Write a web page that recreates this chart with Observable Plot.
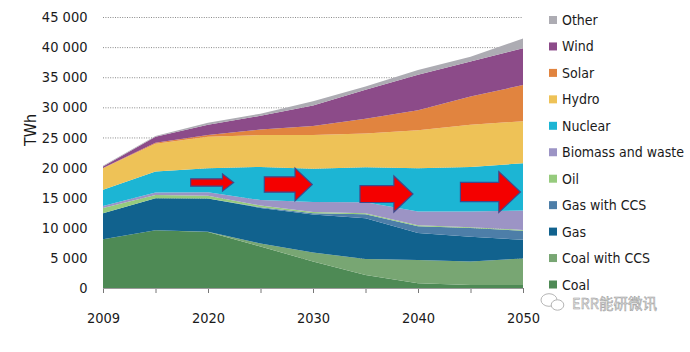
<!DOCTYPE html>
<html><head><meta charset="utf-8">
<script src="https://cdn.jsdelivr.net/npm/d3@7"></script>
<script src="https://cdn.jsdelivr.net/npm/@observablehq/plot@0.6"></script>
<style>
html,body{margin:0;padding:0;background:#fff;}
#chart svg{display:block;}
</style>
</head><body><div id="chart"></div>
<script>
// ---------- DATA ----------
const years = [2009, 2015, 2020, 2025, 2030, 2035, 2040, 2045, 2050];
const xTickLabels = ["2009", "", "2020", "", "2030", "", "2040", "", "2050"];
const seriesNames = ["Coal", "Coal with CCS", "Gas", "Gas with CCS", "Oil", "Biomass and waste", "Nuclear", "Hydro", "Solar", "Wind", "Other"];
const coal    = [8100, 9600, 9300, 6900, 4400, 2150,  800,  500,  500];
const coalCCS = [   0,    0,   50,  500, 1500, 2650, 3850, 3900, 4400];
const gas     = [4300, 5300, 5500, 5900, 6300, 6800, 4500, 4100, 3100];
const gasCCS  = [   0,    0,    0,  100,  200,  650, 1100, 1450, 1500];
const oil     = [ 900,  550,  450,  300,  200,  150,  150,  150,  150];
const biomass = [ 300,  400,  600,  900, 1700, 1850, 2300, 2600, 3200];
const nuclear = [2700, 3500, 4000, 5500, 5500, 5800, 7200, 7400, 7850];
const hydro   = [3600, 4600, 5200, 5300, 5600, 5600, 6300, 7000, 7000];
const solar   = [  20,  150,  300,  900, 1500, 2450, 3300, 4700, 6000];
const wind    = [ 270, 1000, 1700, 2300, 3400, 4800, 5900, 5800, 6100];
const other   = [ 100,  150,  350,  350,  700,  550,  800,  800, 1650];
const yTicks  = [0, 5000, 10000, 15000, 20000, 25000, 30000, 35000, 40000, 45000];
const yLabel  = "TWh";
// arrow annotations (position in data space: year index, TWh)
const arrowX = [2.07, 3.52, 5.39, 7.37];
const arrowY = [17600, 17270, 15690, 16020];
const watermark = "ERR能研微讯";

// ---------- BUILD ----------
const seriesValues = [coal, coalCCS, gas, gasCCS, oil, biomass, nuclear, hydro, solar, wind, other];
const long = [];
seriesNames.forEach((name, s) => {
  years.forEach((yr, i) => long.push({series: name, i, year: yr, value: seriesValues[s][i]}));
});
const arrows = arrowX.map((x, k) => ({x, y: arrowY[k]}));

// ---------- STYLE ----------
const FONT = '"DejaVu Sans Condensed", "Liberation Sans Narrow", "Open Sans", sans-serif';
const palette = ["#4e8a55", "#78a673", "#11628e", "#4d7ea8", "#96cb7d", "#9c94c5", "#1cb5d4", "#eec257", "#e1843f", "#8c4b89", "#adacb3"];
const arrowR = [21.5, 24, 26.5, 30];

function arrowSymbol(headHalf, shaftHalf, headLen) {
  return {
    draw(ctx, size) {
      const L = 2 * Math.sqrt(size / Math.PI);
      const h = L / 2, hx = h - headLen * L;
      ctx.moveTo(-h, -shaftHalf * L);
      ctx.lineTo(hx, -shaftHalf * L);
      ctx.lineTo(hx, -headHalf * L);
      ctx.lineTo(h, 0);
      ctx.lineTo(hx, headHalf * L);
      ctx.lineTo(hx, shaftHalf * L);
      ctx.lineTo(-h, shaftHalf * L);
      ctx.closePath();
    }
  };
}
const thinArrow = arrowSymbol(0.2, 0.085, 0.26);
const fatArrow = arrowSymbol(0.34, 0.16, 0.36);

const fmt = v => d3.format(",")(v).replace(/,/g, " ");

const chart = Plot.plot({
  width: 690,
  height: 352,
  marginLeft: 103,
  marginRight: 167,
  marginTop: 17,
  marginBottom: 64,
  style: {fontFamily: FONT, fontSize: "14.5px", color: "#1a1a1a", background: "#fff"},
  x: {domain: [0, years.length - 1], ticks: d3.range(years.length), tickFormat: i => xTickLabels[i], tickSize: 5, tickPadding: 19, label: null},
  y: {domain: [0, 45000], ticks: yTicks, tickFormat: fmt, tickSize: 0, tickPadding: 16, label: null},
  color: {domain: seriesNames, range: palette},
  marks: [
    Plot.ruleY(yTicks.filter(v => v > 0), {stroke: "#8a8a8a", strokeDasharray: "1 1.4", strokeWidth: 1}),
    Plot.areaY(long, {x: "i", y: "value", z: "series", fill: "series", order: seriesNames}),
    Plot.ruleY([0], {stroke: "#9a9a9a"}),
    ...arrows.map((d, k) => Plot.dot([d], {x: "x", y: "y", r: arrowR[k], symbol: k === 0 ? thinArrow : fatArrow, fill: "#f40000", stroke: "#3f4a8c", strokeWidth: 1.2}))
  ]
});

document.getElementById("chart").appendChild(chart);

const svg = d3.select(chart);
svg.selectAll('[aria-label^="x-axis"] text').attr("font-size", 14.5);
svg.selectAll('[aria-label^="x-axis"] line, [aria-label^="x-axis"] path').attr("stroke", "#777");

// y label
svg.append("text")
  .attr("transform", "translate(30,130) rotate(-90)")
  .attr("text-anchor", "middle").attr("dy", "0.35em")
  .attr("font-family", FONT).attr("font-size", 16).attr("fill", "#1a1a1a")
  .text(yLabel);

// legend (top-to-bottom reverse of stacking order)
const colorOf = Object.fromEntries(seriesNames.map((n, i) => [n, palette[i]]));
const lg = svg.append("g").attr("font-family", FONT).attr("font-size", 14).attr("fill", "#1a1a1a").attr("text-anchor", "start");
seriesNames.slice().reverse().forEach((name, k) => {
  const cy = 20 + k * 26.45;
  lg.append("rect").attr("x", 549).attr("y", cy - 4).attr("width", 8).attr("height", 8).attr("fill", colorOf[name]);
  lg.append("text").attr("x", 562).attr("y", cy).attr("dy", "0.36em").attr("text-anchor", "start").text(name);
});

// watermark
const wm = svg.append("g");
wm.append("ellipse").attr("cx", 549).attr("cy", 300).attr("rx", 8).attr("ry", 6.3).attr("fill", "#fff").attr("stroke", "#b5b5b5").attr("stroke-width", 1);
wm.append("ellipse").attr("cx", 557.5).attr("cy", 305).attr("rx", 6.3).attr("ry", 5.2).attr("fill", "#fff").attr("stroke", "#b5b5b5").attr("stroke-width", 1);
wm.append("text").attr("x", 572).attr("y", 304).attr("dy", "0.36em").attr("text-anchor", "start")
  .attr("font-family", '"Noto Sans CJK SC", sans-serif').attr("font-size", 14.5)
  .attr("fill", "#e4e4e4").attr("stroke", "#9c9c9c").attr("stroke-width", 0.5)
  .text(watermark);
</script>
</body></html>
